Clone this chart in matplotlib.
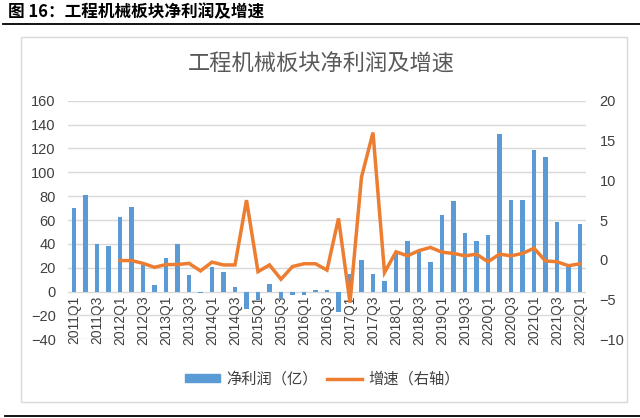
import numpy as np
import matplotlib
matplotlib.use("Agg")
from matplotlib import pyplot as plt
from matplotlib.patches import Rectangle
from matplotlib.lines import Line2D

plt.rcParams['font.family'] = ['Liberation Sans', 'Noto Sans CJK SC', 'DejaVu Sans']

quarters = [f"{y}Q{q}" for y in range(2011, 2023) for q in range(1, 5)][:45]

# net profit (亿), 2011Q1 .. 2022Q1
profit = [70, 81, 40, 38.5, 62.5, 71, 22.5, 5.5, 28.5, 40, 14, -1.5,
          20.5, 16, 3.5, -15, -7, 6.5, -6.5, -3, -3, 1, 1, -17,
          15, 26.5, 15, 9, 32, 42.5, 33.5, 24.5, 64.5, 76, 49.5, 42.5,
          47.5, 132.5, 77, 77, 119, 112.5, 58, 21, 57]

# growth (right axis), starts at 2012Q1
growth = [-0.1, -0.1, -0.45, -0.95, -0.6, -0.6, -0.45, -1.4, -0.3, -0.65, -0.65,
          7.5, -1.5, -0.65, -2.45, -0.85, -0.5, -0.5, -1.3, 5.2, -5.4, 10.4,
          16.0, -1.6, 1.0, 0.5, 1.15, 1.55, 0.95, 0.8, 0.5, 0.7, -0.25, 0.7,
          0.5, 0.8, 1.45, -0.15, -0.25, -0.75, -0.5]

blue = '#5B9BD5'
orange = '#ED7D31'
grid_c = '#D9D9D9'
txt_c = '#404040'

fig = plt.figure(figsize=(6.4, 4.18), dpi=100)

# header + rules
fig.text(8/640, 1-12/418, "图 16：工程机械板块净利润及增速", fontsize=12,
         fontweight='bold', va='center', ha='left', family=['Noto Sans CJK SC'])
fig.add_artist(Line2D([3/640, 1], [1-24/418]*2, color='black', lw=1.3))
fig.add_artist(Line2D([5/640, 1], [1-416/418]*2, color='black', lw=1.3))
fig.add_artist(Rectangle((21/640, 1-402/418), 606/640, 365/418, fill=False,
                         edgecolor=grid_c, lw=1))

ax = fig.add_axes([68.25/640, 1-339.3/418, 517.5/640, 238.6/418])
x = np.arange(len(quarters))
ax.bar(x, profit, width=0.36, color=blue, zorder=2)
ax.set_xlim(-0.5, len(quarters)-0.5)
ax.set_ylim(-40, 160)
ax.set_yticks(range(-40, 161, 20))
ax.grid(axis='y', color=grid_c, lw=1, zorder=0)
ax.set_axisbelow(True)
for s in ax.spines.values():
    s.set_visible(False)
ax.spines['bottom'].set_position(('data', 0))
ax.set_xticks(x[::2])
ax.set_xticklabels(quarters[::2], rotation=90)
ax.tick_params(axis='x', length=0, pad=3, labelsize=10, labelcolor=txt_c)
ax.tick_params(axis='y', length=0, pad=9, labelsize=10.5, labelcolor=txt_c)

ax2 = ax.twinx()
ax2.plot(x[4:], growth, color=orange, lw=2.5, solid_joinstyle='miter', zorder=3)
ax2.set_ylim(-10, 20)
ax2.set_yticks(range(-10, 21, 5))
for s in ax2.spines.values():
    s.set_visible(False)
ax2.tick_params(axis='y', length=0, pad=10, labelsize=10.5, labelcolor=txt_c)

fig.text(321/640, 1-64/418, "工程机械板块净利润及增速", fontsize=16, color='#595959',
         ha='center', va='center', family=['Noto Sans CJK SC'])

handles = [Rectangle((0, 0), 1, 1, color=blue),
           Line2D([0], [0], color=orange, lw=2.5)]
fig.legend(handles, ["净利润（亿）", "增速（右轴）"], loc='center',
           bbox_to_anchor=(322/640, 1-379/418), ncol=2, frameon=False,
           handlelength=2.3, handleheight=0.5,
           handletextpad=0.4, columnspacing=0.6, labelcolor=txt_c,
           prop={'family': ['Noto Sans CJK SC'], 'size': 11})

fig.savefig("out.png", dpi=100)
